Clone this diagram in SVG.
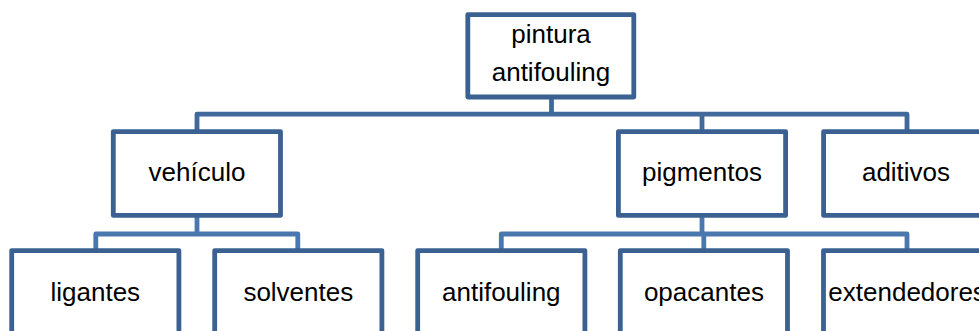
<svg xmlns="http://www.w3.org/2000/svg" width="979" height="331" viewBox="0 0 979 331">
<style>
.box{fill:#ffffff;stroke:#3b6192;stroke-width:4.8;stroke-linejoin:round}
.c1{fill:none;stroke:#41699c;stroke-width:4.8;stroke-linejoin:round;stroke-linecap:butt}
.c2{fill:none;stroke:#4a78ae;stroke-width:4.8;stroke-linejoin:round;stroke-linecap:butt}
text{font-family:"Liberation Sans",Arial,sans-serif;font-size:26px;fill:#000000;text-anchor:middle}
</style>
<rect width="979" height="331" fill="#ffffff"/>
<g id="connectors">
  <path class="c1" d="M551.5,97 V114.2"/>
  <path class="c1" d="M197,131.6 V114.2 H907 V131.6"/>
  <path class="c1" d="M702,114.2 V131.6"/>
  <path class="c2" d="M197,215.4 V234"/>
  <path class="c2" d="M95.8,250.6 V234 H297.8 V250.6"/>
  <path class="c2" d="M702,215.4 V234"/>
  <path class="c2" d="M501.3,250.6 V234 H907 V250.6"/>
  <path class="c2" d="M703.8,234 V250.6"/>
</g>
<g id="n-pintura">
  <rect class="box" x="467.8" y="14.6" width="166" height="82.4"/>
  <text x="551" y="43.3">pintura</text>
  <text x="551" y="80.5">antifouling</text>
</g>
<g id="n-vehiculo">
  <rect class="box" x="113.3" y="131.6" width="167.2" height="83.8"/>
  <text x="197" y="181">vehículo</text>
</g>
<g id="n-pigmentos">
  <rect class="box" x="618.4" y="131.6" width="167.2" height="83.8"/>
  <text x="702" y="181">pigmentos</text>
</g>
<g id="n-aditivos">
  <rect class="box" x="823.6" y="131.6" width="167.2" height="83.8"/>
  <text x="906" y="181">aditivos</text>
</g>
<g id="n-ligantes">
  <rect class="box" x="11.7" y="250.6" width="167.2" height="84"/>
  <text x="95.3" y="300.5">ligantes</text>
</g>
<g id="n-solventes">
  <rect class="box" x="214.7" y="250.6" width="167.2" height="84"/>
  <text x="298.3" y="300.5">solventes</text>
</g>
<g id="n-antifouling">
  <rect class="box" x="417.7" y="250.6" width="167.2" height="84"/>
  <text x="501.3" y="300.5">antifouling</text>
</g>
<g id="n-opacantes">
  <rect class="box" x="620.3" y="250.6" width="167.2" height="84"/>
  <text x="703.9" y="300.5">opacantes</text>
</g>
<g id="n-extendedores">
  <rect class="box" x="823.5" y="250.6" width="167.2" height="84"/>
  <text x="907.1" y="300.5">extendedores</text>
</g>
</svg>
